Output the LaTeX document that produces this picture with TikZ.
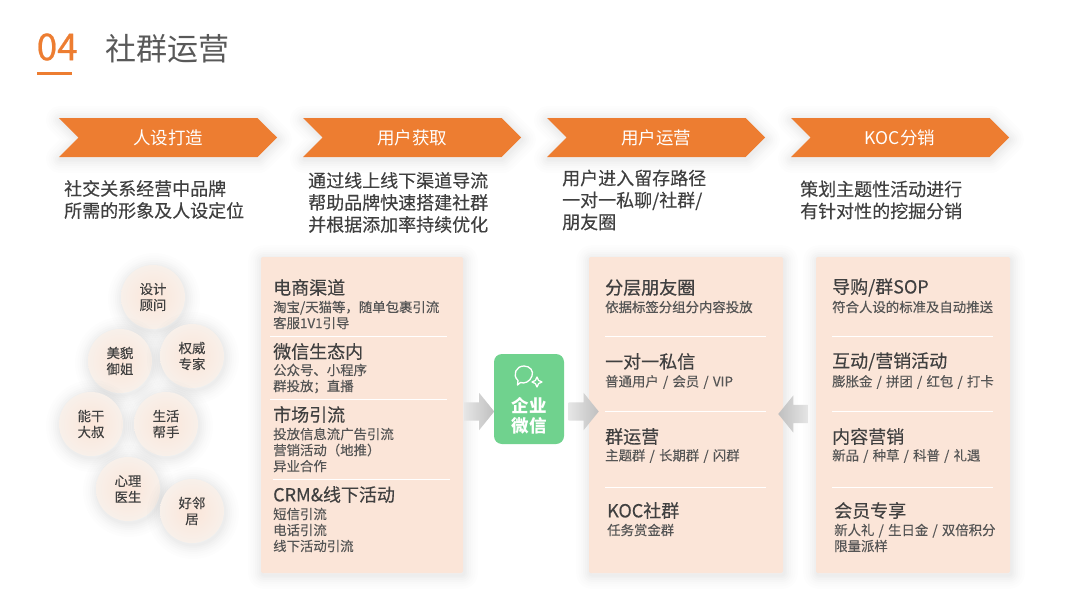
\documentclass[tikz,border=0pt]{standalone}
\usepackage{fontspec}
\setmainfont[WordSpace=1.4]{Noto Sans CJK SC}
\newfontfamily\medfont[WordSpace=1.4,FakeBold=0.2]{Noto Sans CJK SC}
\newfontfamily\semifont[WordSpace=1.4,FakeBold=0.6]{Noto Sans CJK SC}
\usetikzlibrary{arrows.meta, positioning, calc, shapes.arrows, shapes.symbols}
\definecolor{corange}{HTML}{ED7D31}
\definecolor{cpeach}{HTML}{FBE5D8}
\definecolor{lightpeach}{HTML}{F8F0EA}
\definecolor{cgreen}{HTML}{70D28E}
\definecolor{ctext}{HTML}{404040}
\definecolor{csub}{HTML}{555555}
\definecolor{ctitle}{HTML}{595959}

\begin{document}
\begin{tikzpicture}[
  x=1pt, y=-1pt,
  softshadow/.style={
    preaction={draw=black, opacity=.007, line width=28pt, line join=round, transform canvas={shift={(1pt,-2pt)}}},
    preaction={draw=black, opacity=.008, line width=23pt, line join=round, transform canvas={shift={(1pt,-2pt)}}},
    preaction={draw=black, opacity=.009, line width=18pt, line join=round, transform canvas={shift={(1pt,-2pt)}}},
    preaction={draw=black, opacity=.010, line width=14pt, line join=round, transform canvas={shift={(1pt,-2pt)}}},
    preaction={draw=black, opacity=.011, line width=10pt, line join=round, transform canvas={shift={(1pt,-2pt)}}},
    preaction={draw=black, opacity=.012, line width=6pt, line join=round, transform canvas={shift={(1pt,-2pt)}}},
    preaction={draw=black, opacity=.012, line width=3pt, line join=round, transform canvas={shift={(1pt,-2pt)}}}},
  banner/.style={shape=signal, signal to=east, signal from=west, signal pointer angle=90, softshadow, fill=corange, inner sep=0pt, minimum width=218pt, minimum height=39pt, text=white, font=\fontsize{17.5}{20}\selectfont},
  desc/.style={anchor=west, align=left, inner sep=0pt, text=ctext, font=\fontsize{18}{22}\medfont},
  persona/.style={circle, softshadow, inner color=cpeach, outer color=lightpeach, minimum size=64pt, inner sep=0pt, align=center, text=ctext, font=\fontsize{13.4}{16}\medfont},
  card/.style={rectangle, rounded corners=2pt, softshadow, fill=cpeach, minimum width=#1, minimum height=316pt, inner sep=0pt},
  cardtitle/.style={anchor=west, inner sep=0pt, text=ctext, font=\fontsize{18}{20}\medfont},
  cardsub/.style={anchor=west, align=left, inner sep=0pt, text=csub, font=\fontsize{13.4}{16}\medfont},
  cardrule/.style={white, line width=1pt},
  blockarr/.style={shape=single arrow, single arrow head extend=9.5pt, single arrow tip angle=102, text height=18pt, text depth=0pt, text width=0pt, minimum height=30pt, inner sep=0pt}
]
  \useasboundingbox[fill=white] (0,0) rectangle (1080,608);

  % header
  \node[anchor=west, inner sep=0pt, text=corange, font=\fontsize{37}{40}\semifont] (num) at (36.5,47) {04};
  \node[anchor=west, inner sep=0pt, text=ctitle, font=\fontsize{31}{34}\selectfont] (title) at (105,49) {社群运营};
  \draw[corange, line width=3pt] (37,73) -- (72,73);

  % banners
  \node[banner] (persona) at (168,137.5) {人设打造};
  \node[banner] (acquire) at (412,137.5) {用户获取};
  \node[banner] (operate) at (656,137.5) {用户运营};
  \node[banner] (koc) at (900,137.5) {KOC分销};

  \node[desc] (persona text) at (64,199.5) {社交关系经营中品牌\\所需的形象及人设定位};
  \node[desc] (acquire text) at (308,202.5) {通过线上线下渠道导流\\帮助品牌快速搭建社群\\并根据添加率持续优化};
  \node[desc] (operate text) at (562,200) {用户进入留存路径\\一对一私聊/社群/\\朋友圈};
  \node[desc] (koc text) at (800,200) {策划主题性活动进行\\有针对性的挖掘分销};

  % persona circles
  \node[persona] (c1) at (153,297) {设计\\顾问};
  \node[persona] (c2) at (120,361) {美貌\\御姐};
  \node[persona] (c3) at (192,356) {权威\\专家};
  \node[persona] (c4) at (91,424) {能干\\大叔};
  \node[persona] (c5) at (166,424) {生活\\帮手};
  \node[persona] (c6) at (128,489) {心理\\医生};
  \node[persona] (c7) at (192,511) {好邻\\居};

  % channel card
  \node[card=202pt] (channels) at (362,415) {};
  \node[cardtitle] (ch1) at (273,287.5) {电商渠道};
  \node[cardsub] (ch1s) at (273,315) {淘宝/天猫等，随单包裹引流\\客服1V1引导};
  \draw[cardrule] (270,336) -- (447,336);
  \node[cardtitle] (ch2) at (273,351.5) {微信生态内};
  \node[cardsub] (ch2s) at (273,378.5) {公众号、小程序\\群投放；直播};
  \draw[cardrule] (270,399) -- (447,399);
  \node[cardtitle] (ch3) at (273,414.5) {市场引流};
  \node[cardsub] (ch3s) at (273,450) {投放信息流广告引流\\营销活动（地推）\\异业合作};
  \draw[cardrule] (273,479) -- (450,479);
  \node[cardtitle] (ch4) at (273,494.5) {CRM\&线下活动};
  \node[cardsub] (ch4s) at (273,530) {短信引流\\电话引流\\线下活动引流};

  % wecom box
  \node[rectangle, rounded corners=8pt, fill=cgreen, minimum width=70pt, minimum height=90pt, inner sep=0pt] (wecom) at (529,399) {};
  \node[inner sep=0pt, align=center, text=white, font=\fontsize{17.5}{20}\selectfont\bfseries] (wecom text) at (529,416) {企业\\微信};
  \draw[white, line width=1.3pt, line join=round] (518,380.5) .. controls (512,375) and (516,366) .. (524,366) .. controls (530,366) and (534,371) .. (532,376) .. controls (530,382) and (524,384) .. (520.5,382.5) -- (517.5,385) -- cycle;
  \draw[white, line width=1.3pt, fill=cgreen, line join=round] (537,377) .. controls (537.5,380) and (539,381.5) .. (542,382) .. controls (539,382.5) and (537.5,384) .. (537,387) .. controls (536.5,384) and (535,382.5) .. (532,382) .. controls (535,381.5) and (536.5,380) .. (537,377) -- cycle;

  % operation card
  \node[card=194pt] (ops) at (686,415) {};
  \node[cardtitle] (op1) at (605,287.5) {\semifont 分层朋友圈};
  \node[cardsub] (op1s) at (605,307) {\semifont 依据标签分组分内容投放};
  \draw[cardrule] (605,336) -- (766,336);
  \node[cardtitle] (op2) at (605,361.5) {一对一私信};
  \node[cardsub] (op2s) at (605,382) {普通用户 / 会员 / VIP};
  \draw[cardrule] (605,411) -- (766,411);
  \node[cardtitle] (op3) at (605,436.5) {群运营};
  \node[cardsub] (op3s) at (605,456) {主题群 / 长期群 / 闪群};
  \draw[cardrule] (605,487) -- (766,487);
  \node[cardtitle] (op4) at (607,510.5) {KOC社群};
  \node[cardsub] (op4s) at (607,530) {任务赏金群};

  % koc card
  \node[card=194pt] (dist) at (913,415) {};
  \node[cardtitle] (d1) at (832,287.5) {导购/群SOP};
  \node[cardsub] (d1s) at (832,307) {符合人设的标准及自动推送};
  \draw[cardrule] (832,336) -- (993,336);
  \node[cardtitle] (d2) at (832,361.5) {互动/营销活动};
  \node[cardsub] (d2s) at (832,382) {膨胀金 / 拼团 / 红包 / 打卡};
  \draw[cardrule] (832,411) -- (993,411);
  \node[cardtitle] (d3) at (832,436.5) {内容营销};
  \node[cardsub] (d3s) at (832,456) {新品 / 种草 / 科普 / 礼遇};
  \draw[cardrule] (832,487) -- (993,487);
  \node[cardtitle] (d4) at (834,510.5) {会员专享};
  \node[cardsub] (d4s) at (834,538) {新人礼 / 生日金 / 双倍积分\\限量派样};

  % block arrows
  \node[blockarr, left color=black!10, middle color=black!50, right color=black!25] (arr1) at (475.5,411.5) {};
  \node[blockarr, left color=black!10, middle color=black!50, right color=black!25] (arr2) at (580,411.5) {};
  \node[blockarr, shape border rotate=180, left color=black!25, middle color=black!50, right color=black!10] (arr3) at (797,414) {};
\end{tikzpicture}
\end{document}
